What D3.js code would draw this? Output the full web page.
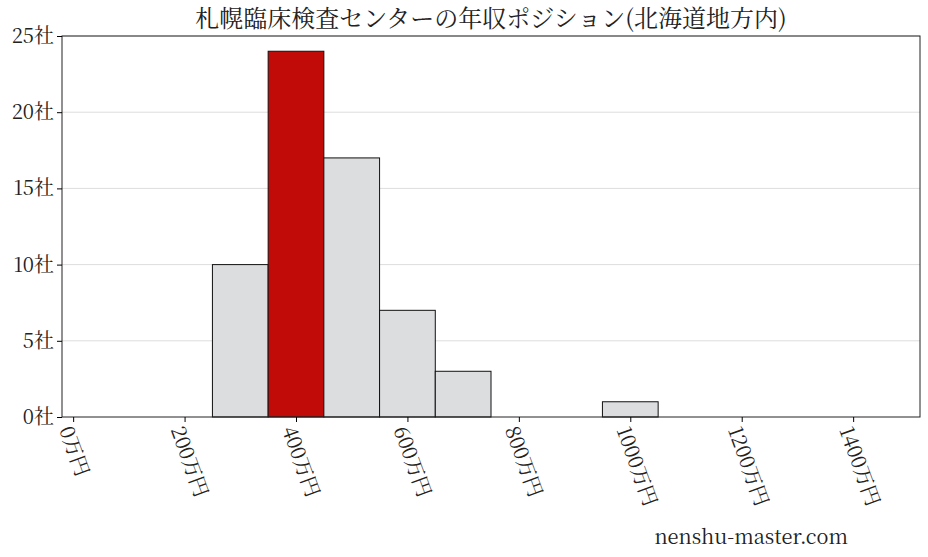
<!DOCTYPE html>
<html><head><meta charset="utf-8">
<script src="https://cdn.jsdelivr.net/npm/d3@7"></script>
<style>body{margin:0;background:#fff}text{font-family:"Noto Serif CJK JP","Noto Sans CJK JP",serif}</style>
</head><body><div id="wrapper"></div>
<script>
const binStarts = [250, 350, 450, 550, 650, 950];
const counts = [10, 24, 17, 7, 3, 1];
const highlightStart = 350;
const xTicks = [0, 200, 400, 600, 800, 1000, 1200, 1400];
const yTicks = [0, 5, 10, 15, 20, 25];
const title = "札幌臨床検査センターの年収ポジション(北海道地方内)";

const dimensions = {width: 928, height: 557, margins: {top: 36, right: 8, bottom: 140, left: 62}};
dimensions.boundedWidth = dimensions.width - dimensions.margins.left - dimensions.margins.right;
dimensions.boundedHeight = dimensions.height - dimensions.margins.top - dimensions.margins.bottom;

const svg = d3.select("#wrapper").append("svg")
  .attr("width", dimensions.width).attr("height", dimensions.height);
const bounds = svg.append("g")
  .attr("transform", `translate(${dimensions.margins.left},${dimensions.margins.top})`);

const xScale = d3.scaleLinear().domain([-20, 1520]).range([0, dimensions.boundedWidth]);
const yScale = d3.scaleLinear().domain([0, 25]).range([dimensions.boundedHeight, 0]);

// grid
bounds.selectAll(".grid").data(yTicks.slice(1)).join("line")
  .attr("x1", 0).attr("x2", dimensions.boundedWidth)
  .attr("y1", d => yScale(d)).attr("y2", d => yScale(d))
  .attr("stroke", "#dddddd").attr("stroke-width", 1);

// bars
bounds.selectAll(".bar").data(binStarts).join("rect")
  .attr("x", d => xScale(d))
  .attr("y", (d, i) => yScale(counts[i]))
  .attr("width", d => xScale(d + 100) - xScale(d))
  .attr("height", (d, i) => dimensions.boundedHeight - yScale(counts[i]))
  .attr("fill", d => d === highlightStart ? "#c00b08" : "#dcdddf")
  .attr("stroke", "#111").attr("stroke-width", 1);

// frame
bounds.append("rect").attr("width", dimensions.boundedWidth).attr("height", dimensions.boundedHeight)
  .attr("fill", "none").attr("stroke", "#222").attr("stroke-width", 1);

const xAxis = bounds.append("g")
  .attr("transform", `translate(0,${dimensions.boundedHeight})`)
  .call(d3.axisBottom(xScale).tickValues(xTicks).tickSize(5).tickFormat(d => d + "万円"));
xAxis.select(".domain").remove();
xAxis.selectAll("text")
  .attr("font-size", 20).attr("fill", "#222")
  .attr("text-anchor", "start").attr("dy", "0.35em")
  .attr("transform", "translate(-8,10) rotate(70)").attr("y", 0).attr("x", 0);

const yAxis = bounds.append("g")
  .call(d3.axisLeft(yScale).tickValues(yTicks).tickSize(5).tickFormat(d => d + "社"));
yAxis.select(".domain").remove();
yAxis.selectAll("text").attr("font-size", 20).attr("fill", "#222");

svg.append("text").attr("x", dimensions.margins.left + dimensions.boundedWidth / 2).attr("y", 27)
  .attr("text-anchor", "middle").attr("font-size", 24).attr("fill", "#222").text(title);

svg.append("text").attr("x", 848).attr("y", 544).attr("text-anchor", "end")
  .attr("font-size", 20).attr("fill", "#222").text("nenshu-master.com");
</script></body></html>
